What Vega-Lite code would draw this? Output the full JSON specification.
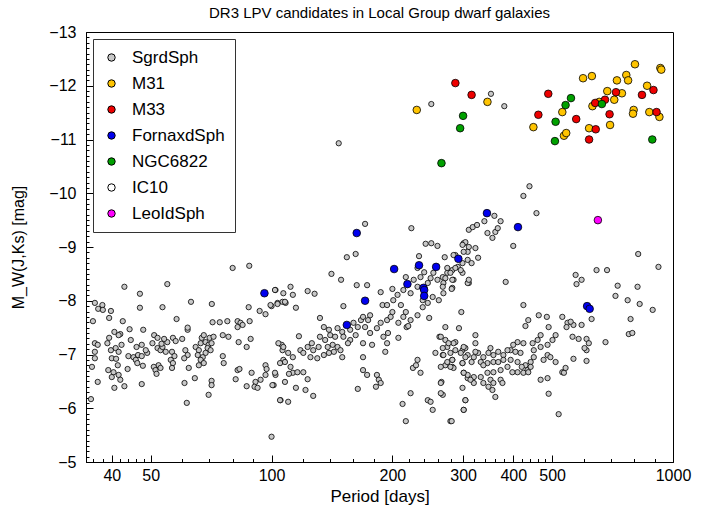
{
  "$schema": "https://vega.github.io/schema/vega-lite/v6.json",
  "width": 587,
  "height": 430,
  "autosize": {"type": "none"},
  "padding": {"left": 86, "top": 32, "right": 40, "bottom": 54},
  "background": "white",
  "config": {
    "font": "Liberation Sans",
    "view": {"stroke": "black", "strokeWidth": 1},
    "axis": {"domainColor": "black", "tickColor": "black", "tickWidth": 1, "labelColor": "black", "titleColor": "black", "grid": false, "labelFont": "Liberation Sans", "titleFont": "Liberation Sans", "titleFontWeight": "normal"}
  },
  "title": {"text": "DR3 LPV candidates in Local Group dwarf galaxies", "fontSize": 15, "fontWeight": "normal", "font": "Liberation Sans", "offset": 3, "color": "black"},
  "data": {"values": [
    {"p":80,"m":-8.61,"g":"SgrdSph"},{"p":88,"m":-8.65,"g":"SgrdSph"},{"p":43,"m":-8.26,"g":"SgrdSph"},{"p":55,"m":-8.31,"g":"SgrdSph"},{"p":47,"m":-8.13,"g":"SgrdSph"},{"p":47,"m":-7.87,"g":"SgrdSph"},{"p":53.5,"m":-7.88,"g":"SgrdSph"},{"p":63,"m":-7.98,"g":"SgrdSph"},{"p":71,"m":-7.94,"g":"SgrdSph"},{"p":58,"m":-7.66,"g":"SgrdSph"},
    {"p":36.3,"m":-7.96,"g":"SgrdSph"},{"p":37.9,"m":-7.92,"g":"SgrdSph"},{"p":37,"m":-7.85,"g":"SgrdSph"},{"p":38,"m":-7.83,"g":"SgrdSph"},{"p":39.8,"m":-7.81,"g":"SgrdSph"},{"p":35.9,"m":-7.62,"g":"SgrdSph"},{"p":39.4,"m":-7.68,"g":"SgrdSph"},{"p":42.6,"m":-7.62,"g":"SgrdSph"},{"p":44.3,"m":-7.47,"g":"SgrdSph"},{"p":47.9,"m":-7.46,"g":"SgrdSph"},
    {"p":42,"m":-7.38,"g":"SgrdSph"},{"p":36.3,"m":-7.21,"g":"SgrdSph"},{"p":36.9,"m":-7.18,"g":"SgrdSph"},{"p":39.4,"m":-7.31,"g":"SgrdSph"},{"p":39,"m":-7.21,"g":"SgrdSph"},{"p":36.3,"m":-7.05,"g":"SgrdSph"},{"p":36.3,"m":-6.93,"g":"SgrdSph"},{"p":35.7,"m":-6.77,"g":"SgrdSph"},{"p":39.8,"m":-7.08,"g":"SgrdSph"},{"p":40.9,"m":-7.12,"g":"SgrdSph"},
    {"p":41.6,"m":-7.05,"g":"SgrdSph"},{"p":40,"m":-6.93,"g":"SgrdSph"},{"p":41,"m":-6.92,"g":"SgrdSph"},{"p":41.4,"m":-6.8,"g":"SgrdSph"},{"p":39.2,"m":-6.71,"g":"SgrdSph"},{"p":40.4,"m":-6.67,"g":"SgrdSph"},{"p":40,"m":-6.58,"g":"SgrdSph"},{"p":41.6,"m":-6.62,"g":"SgrdSph"},{"p":42,"m":-6.53,"g":"SgrdSph"},{"p":36.9,"m":-6.49,"g":"SgrdSph"},
    {"p":40.6,"m":-6.38,"g":"SgrdSph"},{"p":43,"m":-6.41,"g":"SgrdSph"},{"p":35.5,"m":-6.17,"g":"SgrdSph"},{"p":43.8,"m":-6.73,"g":"SgrdSph"},{"p":42.3,"m":-7.18,"g":"SgrdSph"},{"p":44.6,"m":-7.27,"g":"SgrdSph"},{"p":46.1,"m":-7.14,"g":"SgrdSph"},{"p":44,"m":-6.97,"g":"SgrdSph"},{"p":45.3,"m":-6.95,"g":"SgrdSph"},{"p":46.5,"m":-6.99,"g":"SgrdSph"},
    {"p":47.5,"m":-6.97,"g":"SgrdSph"},{"p":49,"m":-7.03,"g":"SgrdSph"},{"p":48.6,"m":-7.08,"g":"SgrdSph"},{"p":47.5,"m":-7.18,"g":"SgrdSph"},{"p":45.9,"m":-6.9,"g":"SgrdSph"},{"p":46.3,"m":-6.84,"g":"SgrdSph"},{"p":47.8,"m":-6.79,"g":"SgrdSph"},{"p":47.5,"m":-6.45,"g":"SgrdSph"},{"p":51,"m":-7.36,"g":"SgrdSph"},{"p":52,"m":-7.31,"g":"SgrdSph"},
    {"p":50.5,"m":-7.21,"g":"SgrdSph"},{"p":52,"m":-7.12,"g":"SgrdSph"},{"p":52.9,"m":-7.08,"g":"SgrdSph"},{"p":54.5,"m":-7.05,"g":"SgrdSph"},{"p":53.5,"m":-7.14,"g":"SgrdSph"},{"p":55,"m":-7.23,"g":"SgrdSph"},{"p":54,"m":-7.29,"g":"SgrdSph"},{"p":53.2,"m":-7.2,"g":"SgrdSph"},{"p":52.3,"m":-6.8,"g":"SgrdSph"},{"p":50.9,"m":-6.77,"g":"SgrdSph"},
    {"p":51.4,"m":-6.71,"g":"SgrdSph"},{"p":52.9,"m":-6.75,"g":"SgrdSph"},{"p":51.7,"m":-6.64,"g":"SgrdSph"},{"p":56.8,"m":-7.31,"g":"SgrdSph"},{"p":57.7,"m":-7.25,"g":"SgrdSph"},{"p":59.9,"m":-7.29,"g":"SgrdSph"},{"p":56.5,"m":-7.05,"g":"SgrdSph"},{"p":57.3,"m":-6.97,"g":"SgrdSph"},{"p":56.1,"m":-6.9,"g":"SgrdSph"},{"p":56.8,"m":-6.84,"g":"SgrdSph"},
    {"p":56.5,"m":-6.75,"g":"SgrdSph"},{"p":61,"m":-7.08,"g":"SgrdSph"},{"p":61.8,"m":-6.99,"g":"SgrdSph"},{"p":60.6,"m":-6.93,"g":"SgrdSph"},{"p":61.8,"m":-7.46,"g":"SgrdSph"},{"p":61.8,"m":-7.5,"g":"SgrdSph"},{"p":62.2,"m":-6.75,"g":"SgrdSph"},{"p":64.4,"m":-6.56,"g":"SgrdSph"},{"p":60.7,"m":-6.47,"g":"SgrdSph"},{"p":61.5,"m":-6.1,"g":"SgrdSph"},
    {"p":64.7,"m":-7.14,"g":"SgrdSph"},{"p":65.9,"m":-7.08,"g":"SgrdSph"},{"p":66.6,"m":-7.21,"g":"SgrdSph"},{"p":67,"m":-7.31,"g":"SgrdSph"},{"p":67.8,"m":-7.36,"g":"SgrdSph"},{"p":68.5,"m":-7.23,"g":"SgrdSph"},{"p":69.7,"m":-7.18,"g":"SgrdSph"},{"p":69.3,"m":-7.12,"g":"SgrdSph"},{"p":70.5,"m":-7.08,"g":"SgrdSph"},{"p":70.1,"m":-7.31,"g":"SgrdSph"},
    {"p":71.7,"m":-7.33,"g":"SgrdSph"},{"p":70.9,"m":-7.21,"g":"SgrdSph"},{"p":68.5,"m":-7.03,"g":"SgrdSph"},{"p":67.4,"m":-6.95,"g":"SgrdSph"},{"p":66.6,"m":-6.9,"g":"SgrdSph"},{"p":67.8,"m":-6.84,"g":"SgrdSph"},{"p":65.9,"m":-6.8,"g":"SgrdSph"},{"p":65.5,"m":-6.99,"g":"SgrdSph"},{"p":71.3,"m":-7.6,"g":"SgrdSph"},{"p":74.3,"m":-7.6,"g":"SgrdSph"},
    {"p":77.6,"m":-7.62,"g":"SgrdSph"},{"p":82.3,"m":-7.62,"g":"SgrdSph"},{"p":83.7,"m":-7.59,"g":"SgrdSph"},{"p":84.7,"m":-7.55,"g":"SgrdSph"},{"p":82.3,"m":-7.51,"g":"SgrdSph"},{"p":88.2,"m":-7.62,"g":"SgrdSph"},{"p":87.7,"m":-7.88,"g":"SgrdSph"},{"p":93.4,"m":-7.81,"g":"SgrdSph"},{"p":96.6,"m":-7.75,"g":"SgrdSph"},{"p":100,"m":-7.9,"g":"SgrdSph"},
    {"p":103.5,"m":-7.96,"g":"SgrdSph"},{"p":102.3,"m":-8.2,"g":"SgrdSph"},{"p":106.5,"m":-7.98,"g":"SgrdSph"},{"p":75.6,"m":-7.36,"g":"SgrdSph"},{"p":78.1,"m":-7.33,"g":"SgrdSph"},{"p":82.8,"m":-7.23,"g":"SgrdSph"},{"p":88.7,"m":-7.29,"g":"SgrdSph"},{"p":86.7,"m":-7.14,"g":"SgrdSph"},{"p":75.6,"m":-6.97,"g":"SgrdSph"},{"p":76,"m":-6.84,"g":"SgrdSph"},
    {"p":82.3,"m":-6.71,"g":"SgrdSph"},{"p":83.2,"m":-6.73,"g":"SgrdSph"},{"p":81.4,"m":-6.54,"g":"SgrdSph"},{"p":89.2,"m":-6.66,"g":"SgrdSph"},{"p":96.6,"m":-6.8,"g":"SgrdSph"},{"p":97.2,"m":-6.73,"g":"SgrdSph"},{"p":96.6,"m":-6.62,"g":"SgrdSph"},{"p":93.9,"m":-6.53,"g":"SgrdSph"},{"p":91.2,"m":-6.49,"g":"SgrdSph"},{"p":90.7,"m":-6.4,"g":"SgrdSph"},
    {"p":86.7,"m":-6.41,"g":"SgrdSph"},{"p":92.3,"m":-6.38,"g":"SgrdSph"},{"p":102.3,"m":-6.62,"g":"SgrdSph"},{"p":101.2,"m":-6.43,"g":"SgrdSph"},{"p":105.3,"m":-6.15,"g":"SgrdSph"},{"p":100,"m":-5.47,"g":"SgrdSph"},{"p":70.9,"m":-6.51,"g":"SgrdSph"},{"p":70.9,"m":-6.43,"g":"SgrdSph"},{"p":69.7,"m":-6.25,"g":"SgrdSph"},{"p":106,"m":-7.18,"g":"SgrdSph"},
    {"p":106.5,"m":-7.08,"g":"SgrdSph"},{"p":107,"m":-6.9,"g":"SgrdSph"},{"p":108.4,"m":-7.96,"g":"SgrdSph"},{"p":40.6,"m":-7.42,"g":"SgrdSph"},{"p":41.6,"m":-7.36,"g":"SgrdSph"},
    {"p":171,"m":-9.43,"g":"SgrdSph"},{"p":223,"m":-9.35,"g":"SgrdSph"},{"p":154,"m":-8.81,"g":"SgrdSph"},{"p":162,"m":-8.87,"g":"SgrdSph"},{"p":141,"m":-8.5,"g":"SgrdSph"},{"p":149,"m":-8.39,"g":"SgrdSph"},{"p":163,"m":-8.29,"g":"SgrdSph"},{"p":173,"m":-8.29,"g":"SgrdSph"},{"p":187,"m":-8.16,"g":"SgrdSph"},{"p":200,"m":-8.22,"g":"SgrdSph"},
    {"p":102,"m":-8.2,"g":"SgrdSph"},{"p":111.5,"m":-8.26,"g":"SgrdSph"},{"p":107,"m":-8.14,"g":"SgrdSph"},{"p":113,"m":-8.11,"g":"SgrdSph"},{"p":108,"m":-7.98,"g":"SgrdSph"},{"p":103.5,"m":-7.94,"g":"SgrdSph"},{"p":99.4,"m":-7.92,"g":"SgrdSph"},{"p":115,"m":-7.87,"g":"SgrdSph"},{"p":123,"m":-8.18,"g":"SgrdSph"},{"p":128,"m":-8.13,"g":"SgrdSph"},
    {"p":151,"m":-7.9,"g":"SgrdSph"},{"p":117,"m":-7.34,"g":"SgrdSph"},{"p":132,"m":-7.68,"g":"SgrdSph"},{"p":135,"m":-7.51,"g":"SgrdSph"},{"p":139,"m":-7.46,"g":"SgrdSph"},{"p":140,"m":-7.36,"g":"SgrdSph"},{"p":146,"m":-7.49,"g":"SgrdSph"},{"p":144,"m":-7.33,"g":"SgrdSph"},{"p":150,"m":-7.42,"g":"SgrdSph"},{"p":151,"m":-7.33,"g":"SgrdSph"},
    {"p":157,"m":-7.46,"g":"SgrdSph"},{"p":160,"m":-7.59,"g":"SgrdSph"},{"p":164,"m":-7.51,"g":"SgrdSph"},{"p":167,"m":-7.64,"g":"SgrdSph"},{"p":169,"m":-7.7,"g":"SgrdSph"},{"p":174,"m":-7.64,"g":"SgrdSph"},{"p":176,"m":-7.73,"g":"SgrdSph"},{"p":171,"m":-7.51,"g":"SgrdSph"},{"p":162,"m":-7.36,"g":"SgrdSph"},{"p":157,"m":-7.27,"g":"SgrdSph"},
    {"p":155,"m":-7.21,"g":"SgrdSph"},{"p":176,"m":-7.4,"g":"SgrdSph"},{"p":183,"m":-7.49,"g":"SgrdSph"},{"p":187,"m":-7.59,"g":"SgrdSph"},{"p":194,"m":-7.64,"g":"SgrdSph"},{"p":198,"m":-7.7,"g":"SgrdSph"},{"p":189,"m":-7.92,"g":"SgrdSph"},{"p":194,"m":-7.92,"g":"SgrdSph"},{"p":201,"m":-8.01,"g":"SgrdSph"},{"p":206,"m":-8.11,"g":"SgrdSph"},
    {"p":210,"m":-7.92,"g":"SgrdSph"},{"p":200,"m":-7.79,"g":"SgrdSph"},{"p":213,"m":-8.2,"g":"SgrdSph"},{"p":222,"m":-8.14,"g":"SgrdSph"},{"p":226,"m":-8.39,"g":"SgrdSph"},{"p":231,"m":-8.26,"g":"SgrdSph"},{"p":235,"m":-8.44,"g":"SgrdSph"},{"p":245,"m":-8.33,"g":"SgrdSph"},{"p":249,"m":-8.42,"g":"SgrdSph"},{"p":253,"m":-8.52,"g":"SgrdSph"},
    {"p":259,"m":-8.39,"g":"SgrdSph"},{"p":267,"m":-8.44,"g":"SgrdSph"},{"p":274,"m":-8.52,"g":"SgrdSph"},{"p":282,"m":-8.57,"g":"SgrdSph"},{"p":291,"m":-8.63,"g":"SgrdSph"},{"p":299,"m":-8.7,"g":"SgrdSph"},{"p":308,"m":-8.76,"g":"SgrdSph"},{"p":284,"m":-8.39,"g":"SgrdSph"},{"p":268,"m":-8.14,"g":"SgrdSph"},{"p":261,"m":-8.01,"g":"SgrdSph"},
    {"p":252,"m":-8.07,"g":"SgrdSph"},{"p":245,"m":-7.96,"g":"SgrdSph"},{"p":238,"m":-7.88,"g":"SgrdSph"},{"p":231,"m":-7.73,"g":"SgrdSph"},{"p":222,"m":-7.64,"g":"SgrdSph"},{"p":217,"m":-7.51,"g":"SgrdSph"},{"p":213,"m":-7.7,"g":"SgrdSph"},{"p":207,"m":-7.59,"g":"SgrdSph"},{"p":238,"m":-8.01,"g":"SgrdSph"},
    {"p":104,"m":-7.21,"g":"SgrdSph"},{"p":107,"m":-7.14,"g":"SgrdSph"},{"p":110,"m":-7.03,"g":"SgrdSph"},{"p":113,"m":-6.95,"g":"SgrdSph"},{"p":108,"m":-6.86,"g":"SgrdSph"},{"p":111.5,"m":-6.77,"g":"SgrdSph"},{"p":118,"m":-7.08,"g":"SgrdSph"},{"p":120,"m":-7.03,"g":"SgrdSph"},{"p":123,"m":-7.14,"g":"SgrdSph"},{"p":126,"m":-7.21,"g":"SgrdSph"},
    {"p":127,"m":-7.08,"g":"SgrdSph"},{"p":131,"m":-7.14,"g":"SgrdSph"},{"p":125,"m":-6.95,"g":"SgrdSph"},{"p":130,"m":-6.93,"g":"SgrdSph"},{"p":135,"m":-6.99,"g":"SgrdSph"},{"p":139,"m":-7.03,"g":"SgrdSph"},{"p":143,"m":-7.05,"g":"SgrdSph"},{"p":142,"m":-7.18,"g":"SgrdSph"},{"p":146,"m":-7.14,"g":"SgrdSph"},{"p":148.5,"m":-7.08,"g":"SgrdSph"},
    {"p":150,"m":-6.95,"g":"SgrdSph"},{"p":136,"m":-7.27,"g":"SgrdSph"},{"p":132,"m":-7.33,"g":"SgrdSph"},{"p":138,"m":-7.14,"g":"SgrdSph"},{"p":105,"m":-6.84,"g":"SgrdSph"},{"p":113,"m":-6.66,"g":"SgrdSph"},{"p":116,"m":-6.67,"g":"SgrdSph"},{"p":120,"m":-6.67,"g":"SgrdSph"},{"p":110.5,"m":-6.64,"g":"SgrdSph"},
    {"p":100.5,"m":-6.43,"g":"SgrdSph"},{"p":102,"m":-6.66,"g":"SgrdSph"},{"p":108,"m":-6.49,"g":"SgrdSph"},{"p":115,"m":-6.38,"g":"SgrdSph"},{"p":121.5,"m":-6.34,"g":"SgrdSph"},{"p":127,"m":-6.23,"g":"SgrdSph"},{"p":105,"m":-6.15,"g":"SgrdSph"},{"p":110,"m":-6.12,"g":"SgrdSph"},{"p":123,"m":-6.54,"g":"SgrdSph"},{"p":169,"m":-6.95,"g":"SgrdSph"},
    {"p":169,"m":-6.71,"g":"SgrdSph"},{"p":173,"m":-6.62,"g":"SgrdSph"},{"p":164,"m":-6.36,"g":"SgrdSph"},{"p":183,"m":-6.62,"g":"SgrdSph"},{"p":185,"m":-6.53,"g":"SgrdSph"},{"p":182,"m":-6.4,"g":"SgrdSph"},{"p":187,"m":-6.47,"g":"SgrdSph"},{"p":169,"m":-7.21,"g":"SgrdSph"},{"p":178,"m":-7.18,"g":"SgrdSph"},{"p":190,"m":-7.33,"g":"SgrdSph"},
    {"p":195,"m":-7.4,"g":"SgrdSph"},{"p":194,"m":-7.21,"g":"SgrdSph"},{"p":192,"m":-7.05,"g":"SgrdSph"},{"p":207,"m":-7.31,"g":"SgrdSph"},{"p":216,"m":-7.79,"g":"SgrdSph"},{"p":219,"m":-7.53,"g":"SgrdSph"},{"p":247,"m":-7.68,"g":"SgrdSph"},{"p":271,"m":-7.51,"g":"SgrdSph"},{"p":293,"m":-7.49,"g":"SgrdSph"},{"p":262,"m":-7.33,"g":"SgrdSph"},
    {"p":256,"m":-7.03,"g":"SgrdSph"},{"p":267,"m":-6.99,"g":"SgrdSph"},{"p":287,"m":-7.23,"g":"SgrdSph"},{"p":299,"m":-7.08,"g":"SgrdSph"},{"p":304,"m":-7.12,"g":"SgrdSph"},{"p":308,"m":-6.99,"g":"SgrdSph"},{"p":282,"m":-6.9,"g":"SgrdSph"},{"p":271,"m":-6.8,"g":"SgrdSph"},{"p":282,"m":-6.77,"g":"SgrdSph"},{"p":299,"m":-6.84,"g":"SgrdSph"},
    {"p":231,"m":-6.9,"g":"SgrdSph"},{"p":225,"m":-6.75,"g":"SgrdSph"},{"p":229,"m":-6.8,"g":"SgrdSph"},{"p":235,"m":-6.66,"g":"SgrdSph"},{"p":301,"m":-6.66,"g":"SgrdSph"},{"p":308,"m":-6.56,"g":"SgrdSph"},{"p":265,"m":-6.49,"g":"SgrdSph"},{"p":299,"m":-6.38,"g":"SgrdSph"},{"p":245,"m":-6.15,"g":"SgrdSph"},{"p":249,"m":-6.12,"g":"SgrdSph"},
    {"p":222,"m":-6.28,"g":"SgrdSph"},{"p":252,"m":-5.97,"g":"SgrdSph"},{"p":301,"m":-5.97,"g":"SgrdSph"},{"p":212,"m":-6.08,"g":"SgrdSph"},{"p":216,"m":-5.76,"g":"SgrdSph"},{"p":279,"m":-5.76,"g":"SgrdSph"},{"p":267,"m":-6.25,"g":"SgrdSph"},{"p":304,"m":-6.15,"g":"SgrdSph"},
    {"p":242,"m":-9.06,"g":"SgrdSph"},{"p":250,"m":-9.07,"g":"SgrdSph"},{"p":259,"m":-9.02,"g":"SgrdSph"},{"p":270,"m":-8.81,"g":"SgrdSph"},{"p":287,"m":-8.85,"g":"SgrdSph"},{"p":301,"m":-9.07,"g":"SgrdSph"},{"p":310,"m":-9.32,"g":"SgrdSph"},{"p":299,"m":-8.52,"g":"SgrdSph"},{"p":310,"m":-8.33,"g":"SgrdSph"},{"p":282,"m":-8.24,"g":"SgrdSph"},
    {"p":268,"m":-8.33,"g":"SgrdSph"},{"p":233,"m":-8.83,"g":"SgrdSph"},{"p":231,"m":-8.61,"g":"SgrdSph"},{"p":240,"m":-8.53,"g":"SgrdSph"},{"p":216,"m":-8.44,"g":"SgrdSph"},
    {"p":439,"m":-10.13,"g":"SgrdSph"},{"p":424,"m":-9.95,"g":"SgrdSph"},{"p":457,"m":-9.63,"g":"SgrdSph"},{"p":359,"m":-9.58,"g":"SgrdSph"},{"p":372,"m":-9.48,"g":"SgrdSph"},{"p":339,"m":-9.48,"g":"SgrdSph"},{"p":317,"m":-9.37,"g":"SgrdSph"},{"p":325,"m":-9.41,"g":"SgrdSph"},{"p":345,"m":-9.26,"g":"SgrdSph"},{"p":355,"m":-9.17,"g":"SgrdSph"},
    {"p":361,"m":-9.28,"g":"SgrdSph"},{"p":366,"m":-9.35,"g":"SgrdSph"},{"p":400,"m":-9.02,"g":"SgrdSph"},{"p":304,"m":-9.09,"g":"SgrdSph"},{"p":299,"m":-9.04,"g":"SgrdSph"},{"p":310,"m":-9.0,"g":"SgrdSph"},{"p":322,"m":-8.98,"g":"SgrdSph"},{"p":308,"m":-8.91,"g":"SgrdSph"},{"p":301,"m":-8.91,"g":"SgrdSph"},{"p":327,"m":-8.8,"g":"SgrdSph"},
    {"p":315,"m":-8.7,"g":"SgrdSph"},{"p":284,"m":-8.85,"g":"SgrdSph"},{"p":287,"m":-8.61,"g":"SgrdSph"},{"p":279,"m":-8.52,"g":"SgrdSph"},{"p":271,"m":-8.42,"g":"SgrdSph"},{"p":282,"m":-8.39,"g":"SgrdSph"},{"p":296,"m":-8.57,"g":"SgrdSph"},{"p":274,"m":-8.61,"g":"SgrdSph"},{"p":308,"m":-8.33,"g":"SgrdSph"},{"p":310,"m":-8.39,"g":"SgrdSph"},
    {"p":267,"m":-8.26,"g":"SgrdSph"},{"p":281,"m":-8.22,"g":"SgrdSph"},{"p":383,"m":-8.35,"g":"SgrdSph"},{"p":424,"m":-7.92,"g":"SgrdSph"},{"p":297,"m":-7.79,"g":"SgrdSph"},{"p":572,"m":-8.48,"g":"SgrdSph"},{"p":592,"m":-8.39,"g":"SgrdSph"},{"p":575,"m":-8.31,"g":"SgrdSph"},{"p":645,"m":-8.57,"g":"SgrdSph"},{"p":685,"m":-8.57,"g":"SgrdSph"},
    {"p":819,"m":-8.87,"g":"SgrdSph"},{"p":920,"m":-8.63,"g":"SgrdSph"},{"p":728,"m":-8.28,"g":"SgrdSph"},{"p":816,"m":-8.26,"g":"SgrdSph"},{"p":719,"m":-8.09,"g":"SgrdSph"},{"p":771,"m":-8.01,"g":"SgrdSph"},{"p":826,"m":-7.94,"g":"SgrdSph"},{"p":890,"m":-7.83,"g":"SgrdSph"},{"p":784,"m":-7.66,"g":"SgrdSph"},{"p":776,"m":-7.38,"g":"SgrdSph"},
    {"p":792,"m":-7.4,"g":"SgrdSph"},{"p":679,"m":-7.23,"g":"SgrdSph"},{"p":627,"m":-7.66,"g":"SgrdSph"},{"p":463,"m":-7.73,"g":"SgrdSph"},{"p":485,"m":-7.7,"g":"SgrdSph"},{"p":530,"m":-7.7,"g":"SgrdSph"},{"p":546,"m":-7.59,"g":"SgrdSph"},{"p":565,"m":-7.55,"g":"SgrdSph"},{"p":556,"m":-7.61,"g":"SgrdSph"},{"p":592,"m":-7.55,"g":"SgrdSph"},
    {"p":543,"m":-7.51,"g":"SgrdSph"},{"p":436,"m":-7.64,"g":"SgrdSph"},{"p":429,"m":-7.53,"g":"SgrdSph"},{"p":490,"m":-7.51,"g":"SgrdSph"},{"p":562,"m":-7.33,"g":"SgrdSph"},{"p":582,"m":-7.29,"g":"SgrdSph"},{"p":609,"m":-7.29,"g":"SgrdSph"},{"p":617,"m":-7.21,"g":"SgrdSph"},{"p":609,"m":-7.08,"g":"SgrdSph"},{"p":602,"m":-7.12,"g":"SgrdSph"},
    {"p":565,"m":-6.92,"g":"SgrdSph"},{"p":609,"m":-6.88,"g":"SgrdSph"},
    {"p":510,"m":-7.36,"g":"SgrdSph"},{"p":501,"m":-7.27,"g":"SgrdSph"},{"p":468,"m":-7.36,"g":"SgrdSph"},{"p":460,"m":-7.27,"g":"SgrdSph"},{"p":447,"m":-7.21,"g":"SgrdSph"},{"p":424,"m":-7.21,"g":"SgrdSph"},{"p":410,"m":-7.23,"g":"SgrdSph"},{"p":400,"m":-7.18,"g":"SgrdSph"},{"p":394,"m":-7.08,"g":"SgrdSph"},{"p":450,"m":-7.08,"g":"SgrdSph"},
    {"p":468,"m":-7.14,"g":"SgrdSph"},{"p":487,"m":-7.18,"g":"SgrdSph"},{"p":487,"m":-6.99,"g":"SgrdSph"},{"p":476,"m":-6.9,"g":"SgrdSph"},{"p":495,"m":-6.95,"g":"SgrdSph"},{"p":510,"m":-6.86,"g":"SgrdSph"},{"p":450,"m":-6.95,"g":"SgrdSph"},{"p":442,"m":-6.86,"g":"SgrdSph"},{"p":429,"m":-6.8,"g":"SgrdSph"},{"p":417,"m":-7.03,"g":"SgrdSph"},
    {"p":405,"m":-7.05,"g":"SgrdSph"},{"p":387,"m":-7.08,"g":"SgrdSph"},{"p":378,"m":-6.99,"g":"SgrdSph"},{"p":367,"m":-7.05,"g":"SgrdSph"},{"p":357,"m":-6.99,"g":"SgrdSph"},{"p":351,"m":-7.12,"g":"SgrdSph"},{"p":347,"m":-7.03,"g":"SgrdSph"},{"p":337,"m":-6.95,"g":"SgrdSph"},{"p":327,"m":-7.03,"g":"SgrdSph"},{"p":322,"m":-7.05,"g":"SgrdSph"},
    {"p":319,"m":-6.95,"g":"SgrdSph"},{"p":315,"m":-6.86,"g":"SgrdSph"},{"p":332,"m":-6.86,"g":"SgrdSph"},{"p":345,"m":-6.84,"g":"SgrdSph"},{"p":357,"m":-6.86,"g":"SgrdSph"},{"p":367,"m":-6.86,"g":"SgrdSph"},{"p":378,"m":-6.9,"g":"SgrdSph"},{"p":394,"m":-6.9,"g":"SgrdSph"},{"p":410,"m":-6.86,"g":"SgrdSph"},{"p":420,"m":-6.77,"g":"SgrdSph"},
    {"p":434,"m":-6.71,"g":"SgrdSph"},{"p":410,"m":-6.67,"g":"SgrdSph"},{"p":387,"m":-6.77,"g":"SgrdSph"},{"p":372,"m":-6.71,"g":"SgrdSph"},{"p":357,"m":-6.67,"g":"SgrdSph"},{"p":345,"m":-6.66,"g":"SgrdSph"},{"p":332,"m":-6.58,"g":"SgrdSph"},{"p":319,"m":-6.58,"g":"SgrdSph"},{"p":308,"m":-6.62,"g":"SgrdSph"},{"p":301,"m":-6.66,"g":"SgrdSph"},
    {"p":299,"m":-6.84,"g":"SgrdSph"},{"p":304,"m":-6.95,"g":"SgrdSph"},{"p":296,"m":-7.03,"g":"SgrdSph"},{"p":287,"m":-7.08,"g":"SgrdSph"},{"p":284,"m":-7.21,"g":"SgrdSph"},{"p":279,"m":-7.03,"g":"SgrdSph"},{"p":274,"m":-7.14,"g":"SgrdSph"},{"p":271,"m":-7.27,"g":"SgrdSph"},{"p":264,"m":-7.33,"g":"SgrdSph"},{"p":267,"m":-7.12,"g":"SgrdSph"},
    {"p":268,"m":-6.99,"g":"SgrdSph"},{"p":274,"m":-6.86,"g":"SgrdSph"},{"p":282,"m":-6.9,"g":"SgrdSph"},{"p":284,"m":-6.75,"g":"SgrdSph"},{"p":279,"m":-6.77,"g":"SgrdSph"},{"p":322,"m":-7.36,"g":"SgrdSph"},{"p":322,"m":-7.21,"g":"SgrdSph"},{"p":301,"m":-7.14,"g":"SgrdSph"},{"p":276,"m":-7.21,"g":"SgrdSph"},{"p":337,"m":-6.8,"g":"SgrdSph"},
    {"p":351,"m":-6.53,"g":"SgrdSph"},{"p":357,"m":-6.47,"g":"SgrdSph"},{"p":337,"m":-6.47,"g":"SgrdSph"},{"p":319,"m":-6.47,"g":"SgrdSph"},{"p":313,"m":-6.53,"g":"SgrdSph"},{"p":347,"m":-6.4,"g":"SgrdSph"},{"p":361,"m":-6.21,"g":"SgrdSph"},{"p":355,"m":-6.34,"g":"SgrdSph"},{"p":372,"m":-6.53,"g":"SgrdSph"},{"p":376,"m":-6.47,"g":"SgrdSph"},
    {"p":398,"m":-6.67,"g":"SgrdSph"},{"p":424,"m":-6.66,"g":"SgrdSph"},{"p":442,"m":-6.77,"g":"SgrdSph"},{"p":436,"m":-6.67,"g":"SgrdSph"},{"p":468,"m":-6.53,"g":"SgrdSph"},{"p":487,"m":-6.56,"g":"SgrdSph"},{"p":530,"m":-6.67,"g":"SgrdSph"},{"p":535,"m":-6.66,"g":"SgrdSph"},{"p":540,"m":-6.75,"g":"SgrdSph"},{"p":490,"m":-6.27,"g":"SgrdSph"},
    {"p":519,"m":-5.89,"g":"SgrdSph"},{"p":304,"m":-6.15,"g":"SgrdSph"},{"p":301,"m":-5.97,"g":"SgrdSph"},{"p":281,"m":-5.76,"g":"SgrdSph"},{"p":264,"m":-6.47,"g":"SgrdSph"},{"p":264,"m":-6.28,"g":"SgrdSph"},{"p":264,"m":-6.77,"g":"SgrdSph"},
    {"p":147,"m":-10.93,"g":"SgrdSph"},{"p":250,"m":-11.66,"g":"SgrdSph"},{"p":352,"m":-11.85,"g":"SgrdSph"},{"p":380,"m":-11.62,"g":"SgrdSph"},
    {"p":230,"m":-11.55,"g":"M31"},{"p":345,"m":-11.7,"g":"M31"},{"p":597,"m":-12.14,"g":"M31"},{"p":628,"m":-12.18,"g":"M31"},{"p":804,"m":-12.4,"g":"M31"},{"p":930,"m":-12.33,"g":"M31"},{"p":935,"m":-12.3,"g":"M31"},{"p":725,"m":-12.1,"g":"M31"},{"p":765,"m":-12.2,"g":"M31"},{"p":773,"m":-12.1,"g":"M31"},
    {"p":862,"m":-12.0,"g":"M31"},{"p":686,"m":-11.9,"g":"M31"},{"p":746,"m":-11.86,"g":"M31"},{"p":714,"m":-11.74,"g":"M31"},{"p":630,"m":-11.62,"g":"M31"},{"p":655,"m":-11.7,"g":"M31"},{"p":530,"m":-11.51,"g":"M31"},{"p":449,"m":-11.23,"g":"M31"},{"p":535,"m":-11.07,"g":"M31"},{"p":542,"m":-11.12,"g":"M31"},
    {"p":798,"m":-11.55,"g":"M31"},{"p":795,"m":-11.48,"g":"M31"},{"p":873,"m":-11.51,"g":"M31"},{"p":925,"m":-11.42,"g":"M31"},{"p":618,"m":-11.21,"g":"M31"},{"p":697,"m":-11.27,"g":"M31"},
    {"p":287,"m":-12.05,"g":"M33"},{"p":315,"m":-11.83,"g":"M33"},{"p":489,"m":-11.85,"g":"M33"},{"p":462,"m":-11.46,"g":"M33"},{"p":574,"m":-11.38,"g":"M33"},{"p":894,"m":-11.92,"g":"M33"},{"p":837,"m":-11.83,"g":"M33"},{"p":721,"m":-11.88,"g":"M33"},{"p":677,"m":-11.74,"g":"M33"},{"p":640,"m":-11.68,"g":"M33"},
    {"p":695,"m":-11.47,"g":"M33"},{"p":910,"m":-11.51,"g":"M33"},{"p":642,"m":-11.19,"g":"M33"},{"p":618,"m":-11.0,"g":"M33"},
    {"p":96,"m":-8.14,"g":"FornaxdSph"},{"p":154,"m":-7.55,"g":"FornaxdSph"},{"p":163,"m":-9.26,"g":"FornaxdSph"},{"p":171,"m":-8.0,"g":"FornaxdSph"},{"p":202,"m":-8.59,"g":"FornaxdSph"},{"p":218,"m":-8.31,"g":"FornaxdSph"},{"p":233,"m":-8.66,"g":"FornaxdSph"},{"p":239,"m":-8.24,"g":"FornaxdSph"},{"p":240,"m":-8.2,"g":"FornaxdSph"},{"p":240,"m":-8.09,"g":"FornaxdSph"},
    {"p":257,"m":-8.63,"g":"FornaxdSph"},{"p":292,"m":-8.78,"g":"FornaxdSph"},{"p":344,"m":-9.63,"g":"FornaxdSph"},{"p":411,"m":-9.37,"g":"FornaxdSph"},{"p":611,"m":-7.9,"g":"FornaxdSph"},{"p":620,"m":-7.85,"g":"FornaxdSph"},
    {"p":300,"m":-11.44,"g":"NGC6822"},{"p":295,"m":-11.21,"g":"NGC6822"},{"p":265,"m":-10.56,"g":"NGC6822"},{"p":557,"m":-11.77,"g":"NGC6822"},{"p":540,"m":-11.64,"g":"NGC6822"},{"p":510,"m":-11.33,"g":"NGC6822"},{"p":508,"m":-10.97,"g":"NGC6822"},{"p":665,"m":-11.66,"g":"NGC6822"},{"p":888,"m":-11.0,"g":"NGC6822"},
    {"p":650,"m":-9.5,"g":"LeoIdSph"}
  ]},
  "layer": [
    {
      "mark": {"type": "circle", "opacity": 0},
      "encoding": {
        "x": {
          "field": "p", "type": "quantitative",
          "scale": {"type": "log", "domain": [34.5, 1000], "nice": false},
          "axis": {"orient": "bottom", "title": null, "labels": false, "domain": false, "tickSize": -3.5,
            "values": [36,38,42,44,46,48,60,70,80,90,120,140,160,180,220,240,260,280,320,340,360,380,420,440,460,480,600,700,800,900]}
        },
        "y": {
          "field": "m", "type": "quantitative",
          "scale": {"domain": [-13, -5], "reverse": true, "nice": false, "zero": false},
          "axis": {"orient": "left", "title": null, "labels": false, "domain": false, "tickSize": -3,
            "values": [-12.9,-12.8,-12.7,-12.6,-12.5,-12.4,-12.3,-12.2,-12.1,-11.9,-11.8,-11.7,-11.6,-11.5,-11.4,-11.3,-11.2,-11.1,-10.9,-10.8,-10.7,-10.6,-10.5,-10.4,-10.3,-10.2,-10.1,-9.9,-9.8,-9.7,-9.6,-9.5,-9.4,-9.3,-9.2,-9.1,-8.9,-8.8,-8.7,-8.6,-8.5,-8.4,-8.3,-8.2,-8.1,-7.9,-7.8,-7.7,-7.6,-7.5,-7.4,-7.3,-7.2,-7.1,-6.9,-6.8,-6.7,-6.6,-6.5,-6.4,-6.3,-6.2,-6.1,-5.9,-5.8,-5.7,-5.6,-5.5,-5.4,-5.3,-5.2,-5.1]}
        }
      }
    },
    {
      "mark": {"type": "circle", "stroke": "black", "strokeWidth": 0.8, "opacity": 1},
      "encoding": {
        "x": {
          "field": "p", "type": "quantitative",
          "scale": {"type": "log", "domain": [34.5, 1000], "nice": false},
          "axis": {
            "orient": "bottom", "title": "Period [days]", "titleFontSize": 17, "titlePadding": 5,
            "values": [40,50,100,200,300,400,500,1000], "format": "d",
            "labelFontSize": 16, "labelPadding": 12, "labelFlush": false, "labelOverlap": false,
            "tickSize": -7
          }
        },
        "y": {
          "field": "m", "type": "quantitative",
          "scale": {"domain": [-13, -5], "reverse": true, "nice": false, "zero": false},
          "axis": {
            "orient": "left", "title": "M_W(J,Ks) [mag]", "titleFontSize": 16, "titlePadding": 22,
            "values": [-13,-12,-11,-10,-9,-8,-7,-6,-5], "format": "d",
            "labelFontSize": 16, "labelPadding": 17, "labelFlush": false, "labelOverlap": false,
            "tickSize": -7
          }
        },
        "color": {
          "field": "g", "type": "nominal",
          "scale": {"domain": ["SgrdSph","M31","M33","FornaxdSph","NGC6822","IC10","LeoIdSph"], "range": ["#c8c8c8","#ffc400","#ee0000","#0000ee","#00a000","#ffffff","#ff00ff"]},
          "legend": {
            "title": null, "orient": "top-left", "offset": 7, "padding": 10,
            "strokeColor": "#333333", "fillColor": "white",
            "labelFontSize": 17, "labelFont": "Liberation Sans", "labelColor": "black",
            "rowPadding": 8, "symbolStrokeColor": "black", "symbolStrokeWidth": 1, "symbolType": "circle",
            "symbolSize": 55, "labelOffset": 12,
            "encode": {"symbols": {"update": {"size": {"signal": "datum.value == 'SgrdSph' ? 28 : 55"}, "stroke": {"value": "black"}, "strokeWidth": {"value": 1}}}}
          }
        },
        "size": {"condition": {"test": "datum.g == 'SgrdSph'", "value": 28}, "value": 58}
      }
    }
  ],
  "resolve": {"axis": {"x": "independent", "y": "independent"}}
}
